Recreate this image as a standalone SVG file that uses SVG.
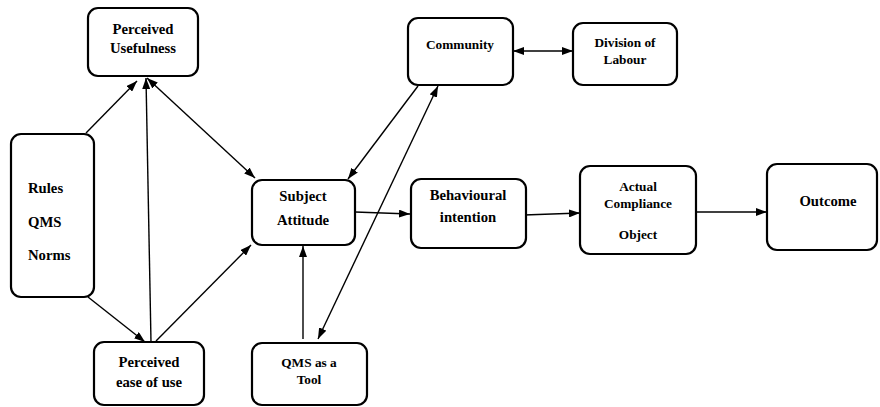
<svg xmlns="http://www.w3.org/2000/svg" width="880" height="407" viewBox="0 0 880 407">
<style>
.box{fill:#fff;stroke:#000;stroke-width:2.2}
.t{font-weight:bold;fill:#000;text-anchor:middle}
.l{font-size:14.7px}
.s{font-size:13.3px}
.c{fill:none;stroke:#000;stroke-width:1.4}
.e{marker-end:url(#ah)}
.b{marker-start:url(#ah);marker-end:url(#ah)}
</style>
<defs>
<marker id="ah" markerUnits="userSpaceOnUse" markerWidth="11" markerHeight="8" refX="11" refY="4" orient="auto-start-reverse">
<path d="M0,0 L11,4 L0,8 z" fill="#000"/>
</marker>
</defs>
<rect width="880" height="407" fill="#fff"/>
<g id="connectors">
<path class="c e" d="M86,133 L137,81"/>
<path class="c e" d="M151,342 L146,78"/>
<path class="c b" d="M147,78 L255,178"/>
<path class="c e" d="M88,297 L145,342"/>
<path class="c e" d="M156,341 L251,245"/>
<path class="c e" d="M303,339 L303,246"/>
<path class="c e" d="M418,86 L348,179"/>
<path class="c b" d="M318,339 L438,86"/>
<path class="c b" d="M513,51 L573,51"/>
<path class="c e" d="M355,212 L410,214"/>
<path class="c e" d="M524,215 L580,213"/>
<path class="c e" d="M696,212 L767,212"/>
</g>
<g font-family="Liberation Serif, DejaVu Serif, serif">
<g id="perceived-usefulness">
<rect class="box" x="88" y="8" width="110" height="68" rx="10"/>
<text class="t l" x="143" y="34">Perceived</text>
<text class="t l" x="143" y="53">Usefulness</text>
</g>
<g id="rules">
<rect class="box" x="11" y="134" width="83" height="163" rx="10"/>
<text class="t l" x="28" y="193" style="text-anchor:start">Rules</text>
<text class="t l" x="28" y="227" style="text-anchor:start">QMS</text>
<text class="t l" x="28" y="260" style="text-anchor:start">Norms</text>
</g>
<g id="perceived-ease">
<rect class="box" x="94" y="342" width="110" height="63" rx="10"/>
<text class="t l" x="149" y="367">Perceived</text>
<text class="t l" x="149" y="387">ease of use</text>
</g>
<g id="subject-attitude">
<rect class="box" x="252" y="180" width="103" height="65" rx="10"/>
<text class="t l" x="303" y="201">Subject</text>
<text class="t l" x="303" y="225">Attitude</text>
</g>
<g id="qms-tool">
<rect class="box" x="252" y="343" width="115" height="62" rx="10"/>
<text class="t s" x="309" y="367">QMS as a</text>
<text class="t s" x="309" y="384">Tool</text>
</g>
<g id="community">
<rect class="box" x="408" y="18" width="105" height="67" rx="10"/>
<text class="t s" x="460" y="49">Community</text>
</g>
<g id="division">
<rect class="box" x="573" y="23" width="104" height="62" rx="10"/>
<text class="t s" x="625" y="47">Division of</text>
<text class="t s" x="625" y="64">Labour</text>
</g>
<g id="behavioural">
<rect class="box" x="411" y="179" width="115" height="69" rx="10"/>
<text class="t l" x="468" y="200">Behavioural</text>
<text class="t l" x="468" y="222">intention</text>
</g>
<g id="actual">
<rect class="box" x="580" y="166" width="116" height="88" rx="10"/>
<text class="t s" x="638" y="191">Actual</text>
<text class="t s" x="638" y="208">Compliance</text>
<text class="t s" x="638" y="239">Object</text>
</g>
<g id="outcome">
<rect class="box" x="767" y="164" width="110" height="86" rx="10"/>
<text class="t l" x="828" y="206">Outcome</text>
</g>
</g>
</svg>
